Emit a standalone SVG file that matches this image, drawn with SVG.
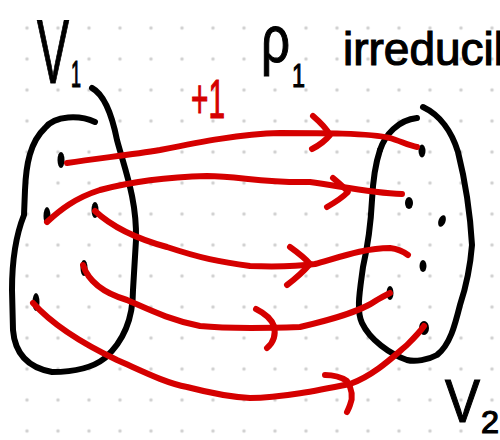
<svg xmlns="http://www.w3.org/2000/svg" width="500" height="440" viewBox="0 0 500 440">
<style>
.ink{fill:none;stroke:#000;stroke-width:6;stroke-linecap:round;stroke-linejoin:round}
.red{fill:none;stroke:#d50000;stroke-width:6;stroke-linecap:round;stroke-linejoin:round}
.pt{fill:#000}
.hand{font-family:"Liberation Sans","DejaVu Sans",sans-serif;fill:#000;stroke:#000;stroke-width:1.2}
.redtxt{font-family:"Liberation Sans","DejaVu Sans",sans-serif;fill:#d50000;stroke:#d50000;stroke-width:1.2}
</style>
<defs>
<pattern id="grid" x="11.5" y="12.5" width="31" height="31" patternUnits="userSpaceOnUse">
<circle cx="15.5" cy="15.5" r="1.7" fill="#cfcfcf"/>
</pattern>
</defs>
<rect width="500" height="440" fill="#fff"/>
<rect width="500" height="440" fill="url(#grid)"/>

<g id="set-V1">
<path class="ink" d="M95,122 C80,115 55,115 45,128 C30,142 26,165 25,190 L24,215 C14,240 12,265 12,290 L13,330 C15,355 30,368 52,372 C70,372 90,370 105,358 C125,340 133,315 133,290 L136,240 C137,200 125,170 117,140 C112,115 105,95 92,88"/>
<ellipse class="pt" cx="61" cy="160" rx="3.5" ry="8"/>
<ellipse class="pt" cx="47" cy="216" rx="3.5" ry="9"/>
<ellipse class="pt" cx="95" cy="210" rx="3.5" ry="8"/>
<ellipse class="pt" cx="84" cy="268" rx="3.5" ry="8"/>
<ellipse class="pt" cx="36" cy="302" rx="3.5" ry="9"/>
</g>

<g id="set-V2">
<path class="ink" d="M380,150 C385,135 398,120 417,118"/>
<path class="ink" d="M423,107 C440,115 452,132 458,152 C465,180 470,210 472,245 C470,270 465,290 460,305 C455,325 450,345 437,355 C428,360 415,362 407,360 C390,354 370,340 362,323 C356,310 360,290 363,267 C368,245 371,220 372,200 C373,180 375,165 380,150"/>
<ellipse class="pt" cx="422" cy="151" rx="3.5" ry="6.5"/>
<ellipse class="pt" cx="409" cy="203" rx="4" ry="6"/>
<ellipse class="pt" cx="442" cy="221" rx="3.5" ry="6" transform="rotate(20 442 221)"/>
<ellipse class="pt" cx="423" cy="266" rx="3.5" ry="6"/>
<ellipse class="pt" cx="390" cy="293" rx="3.5" ry="7"/>
<ellipse class="pt" cx="424" cy="328" rx="5" ry="7"/>
</g>

<g id="connectors">
<path class="red" d="M67,163 C100,158 130,155 160,150 C200,142 240,134 280,133 C320,133 370,133 390,138 C400,141 410,146 417,147"/>
<path class="red" d="M313,116 C320,122 326,128 330,135 C325,141 318,146 312,149"/>
<path class="red" d="M47,222 C60,210 75,198 100,190 C130,182 170,177 207,176 C240,176 260,183 310,182 C340,186 370,193 402,194"/>
<path class="red" d="M333,178 C339,183 344,187 348,192 C342,198 334,203 327,207"/>
<path class="red" d="M95,211 C110,225 130,237 167,247 C200,258 220,262 250,266 C280,267 300,266 315,264 C340,257 365,248 390,248 C398,249 404,252 408,255"/>
<path class="red" d="M290,247 C297,252 304,257 310,264 C303,272 295,279 287,285"/>
<path class="red" d="M83,265 C88,280 100,292 127,300 C150,310 170,320 200,326 C230,329 270,328 300,327 C330,320 360,312 377,300 C382,297 386,295 390,293"/>
<path class="red" d="M256,309 C264,313 271,318 274,326 C276,335 273,343 267,348"/>
<path class="red" d="M33,303 C50,322 75,340 117,360 C140,370 165,383 187,387 C210,393 230,397 250,398 C280,398 320,390 350,384 C375,375 395,355 407,345 C414,338 420,332 424,326"/>
<path class="red" d="M325,375 C333,375 341,377 347,381 C352,389 353,398 350,405 C349,408 348,410 347,412"/>
</g>

<g id="label-V1">
<text class="hand" x="37" y="83" font-size="90"><tspan textLength="32" lengthAdjust="spacingAndGlyphs">V</tspan><tspan font-size="36" dx="2" dy="4" textLength="10" lengthAdjust="spacingAndGlyphs">1</tspan></text>
</g>
<g id="label-rho">
<text class="hand" x="261" y="62" font-size="66"><tspan textLength="29" lengthAdjust="spacingAndGlyphs">ρ</tspan><tspan font-size="34" dx="2" dy="25" textLength="13" lengthAdjust="spacingAndGlyphs">1</tspan></text>
<text class="hand" x="343" y="65" font-size="46">irreducible</text>
</g>
<g id="label-plus1">
<text class="redtxt" x="191" y="118" font-size="56" textLength="34" lengthAdjust="spacingAndGlyphs">+1</text>
</g>
<g id="label-V2">
<text class="hand" x="445" y="422" font-size="62"><tspan textLength="35" lengthAdjust="spacingAndGlyphs">V</tspan><tspan font-size="32" dx="1" dy="11" textLength="18" lengthAdjust="spacingAndGlyphs">2</tspan></text>
</g>
</svg>
